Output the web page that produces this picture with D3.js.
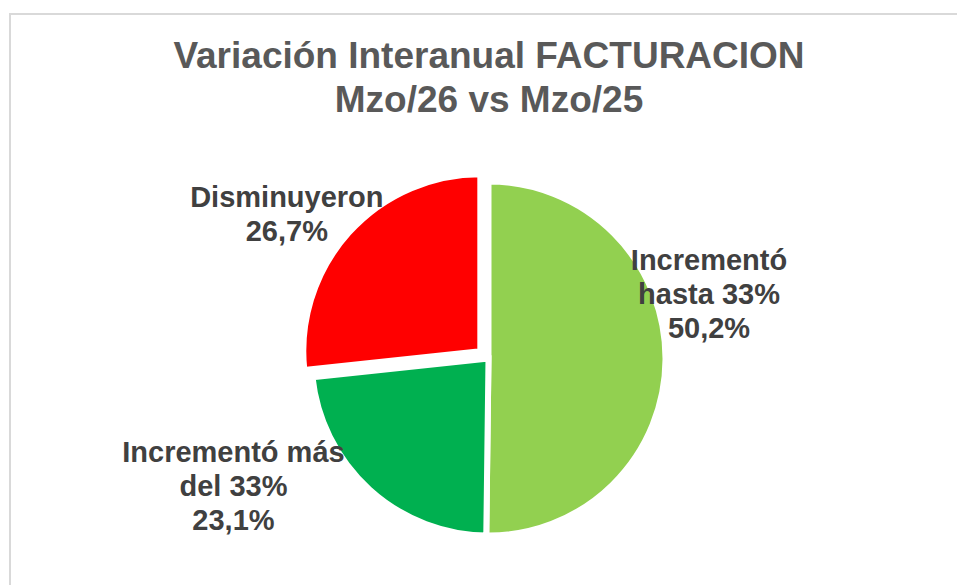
<!DOCTYPE html>
<html>
<head>
<meta charset="utf-8">
<script src="https://cdn.jsdelivr.net/npm/d3@7"></script>
<style>
  body { margin: 0; background: #fff; }
  svg { display: block; font-family: "Liberation Sans", Arial, sans-serif; }
</style>
</head>
<body>
<div class="pie-chart"></div>
<script>
// data
const categories = ["Incrementó hasta 33%", "Incrementó más del 33%", "Disminuyeron"];
const labelLines = [["Incrementó", "hasta 33%"], ["Incrementó más", "del 33%"], ["Disminuyeron"]];
const values = [50.2, 23.1, 26.7];
const colors = ["#92D050", "#00B050", "#FF0000"];
const titleLines = ["Variación Interanual FACTURACION", "Mzo/26 vs Mzo/25"];

function main(){
    const width = 957, height = 585;
    const svg = d3.select(".pie-chart")
                    .append("svg")
                    .attr("width", width)
                    .attr("height", height);

    // chart frame (only top/left visible)
    svg.append("rect")
        .attr("x", 10).attr("y", 14)
        .attr("width", 1000).attr("height", 700)
        .attr("fill", "none")
        .attr("stroke", "#d9d9d9")
        .attr("stroke-width", 2);

    //title
    svg.append("text")
        .attr("x", 489)
        .attr("y", 68)
        .attr("text-anchor", "middle")
        .attr("font-size", 37)
        .attr("font-weight", "bold")
        .attr("fill", "#595959")
        .selectAll("tspan")
        .data(titleLines)
        .enter()
        .append("tspan")
        .attr("x", 489)
        .attr("dy", (d, i) => i == 0 ? 0 : 44)
        .text(d => d);

    //pie
    const cx = 488.5, cy = 358.5, r = 177;
    const g = svg.append("g").attr("transform", `translate(${cx},${cy})`);

    const pie = d3.pie().sort(null).value(d => d);
    const arcs = pie(values);
    const arc = d3.arc().innerRadius(0).outerRadius(r);
    const explode = [0, 0, 11];

    g.selectAll("path")
        .data(arcs)
        .enter()
        .append("path")
        .attr("d", arc)
        .attr("fill", (d, i) => colors[i])
        .attr("stroke", "white")
        .attr("stroke-width", 6)
        .attr("stroke-linejoin", "miter")
        .attr("transform", (d, i) => {
            const a = (d.startAngle + d.endAngle) / 2;
            return `translate(${explode[i] * Math.sin(a)},${-explode[i] * Math.cos(a)})`;
        });

    //labels
    const labelArc = d3.arc().innerRadius(220).outerRadius(220);
    const nudge = [[0.5, -90], [-107, -59], [-38, -4.5]];
    const fmt = v => d3.format(".1f")(v).replace(".", ",") + "%";

    const labels = g.selectAll("text.label")
        .data(arcs)
        .enter()
        .append("text")
        .attr("class", "label")
        .attr("text-anchor", "middle")
        .attr("font-size", 29)
        .attr("font-weight", "bold")
        .attr("fill", "#404040")
        .attr("transform", (d, i) => {
            const c = labelArc.centroid(d);
            return `translate(${c[0] + nudge[i][0]},${c[1] + nudge[i][1]})`;
        });

    labels.each(function(d, i){
        const t = d3.select(this);
        const lines = labelLines[i].concat([fmt(values[i])]);
        lines.forEach((s, j) => {
            t.append("tspan")
                .attr("x", 0)
                .attr("y", j * 34)
                .text(s);
        });
    });
}

main();
</script>
</body>
</html>
